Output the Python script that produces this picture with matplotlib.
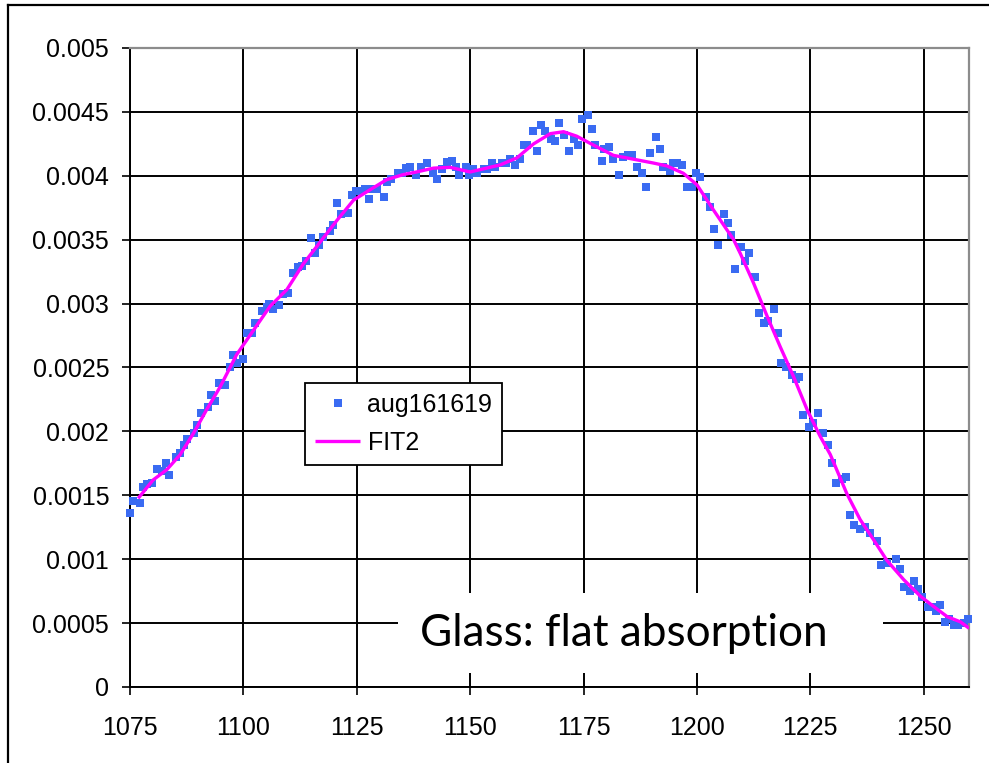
import matplotlib
matplotlib.use("Agg")
import matplotlib.pyplot as plt
from matplotlib.lines import Line2D
from matplotlib.patches import Rectangle

# ---- data ----
data_x = [1075.0, 1075.6, 1077.1, 1077.8, 1078.7, 1079.8, 1081.0, 1082.0, 1082.9, 1083.7,
          1085.1, 1086.0, 1086.8, 1087.6, 1089.1, 1089.8, 1090.7, 1092.1, 1092.9, 1093.8,
          1094.7, 1096.0, 1097.1, 1097.8, 1098.7, 1100.0, 1100.9, 1101.8, 1102.6, 1104.1,
          1105.2, 1105.7, 1106.6, 1107.9, 1108.8, 1109.8, 1111.0, 1112.0, 1112.9, 1113.8,
          1115.0, 1115.9, 1116.7, 1117.5, 1119.0, 1119.8, 1120.7, 1121.6, 1123.1, 1123.9,
          1124.8, 1125.7, 1126.8, 1127.7, 1128.5, 1129.4, 1130.9, 1131.6, 1132.5, 1134.0,
          1134.9, 1135.9, 1136.8, 1138.1, 1139.1, 1140.4, 1141.9, 1142.8, 1143.8, 1145.0,
          1146.0, 1146.9, 1147.6, 1149.0, 1149.8, 1150.7, 1151.6, 1153.1, 1153.8, 1154.8,
          1155.5, 1157.0, 1157.9, 1158.7, 1160.0, 1160.9, 1161.8, 1162.6, 1163.8, 1164.7,
          1165.7, 1166.6, 1167.9, 1168.8, 1169.7, 1170.6, 1171.9, 1172.8, 1173.7, 1174.6,
          1175.9, 1176.8, 1177.6, 1179.0, 1179.6, 1180.7, 1181.6, 1182.9, 1183.8, 1184.7,
          1185.6, 1186.9, 1187.8, 1188.7, 1189.6, 1190.9, 1191.8, 1192.6, 1194.0, 1194.8,
          1195.7, 1196.7, 1197.8, 1198.9, 1199.7, 1200.6, 1201.9, 1202.8, 1203.7, 1204.6,
          1205.9, 1206.8, 1207.6, 1208.5, 1209.8, 1210.7, 1211.6, 1212.9, 1213.8, 1214.7,
          1215.6, 1216.9, 1217.8, 1218.5, 1219.6, 1220.9, 1221.8, 1222.6, 1223.5, 1224.8,
          1225.7, 1226.6, 1227.9, 1228.8, 1229.7, 1230.6, 1231.9, 1232.8, 1233.7, 1234.6,
          1235.9, 1237.1, 1238.1, 1239.8, 1240.7, 1241.9, 1243.8, 1244.7, 1245.6, 1246.9,
          1247.8, 1248.7, 1249.6, 1250.9, 1252.2, 1252.7, 1253.5, 1254.8, 1255.7, 1256.6,
          1257.5, 1258.8, 1259.7]
data_y_milli = [1.364, 1.458, 1.442, 1.567, 1.588, 1.599, 1.706, 1.693, 1.755, 1.659,
                1.802, 1.833, 1.894, 1.941, 1.985, 2.050, 2.146, 2.193, 2.285, 2.240,
                2.381, 2.365, 2.506, 2.598, 2.538, 2.569, 2.772, 2.772, 2.851, 2.944,
                2.976, 2.997, 2.955, 2.989, 3.075, 3.085, 3.242, 3.289, 3.294, 3.336,
                3.511, 3.398, 3.459, 3.524, 3.568, 3.615, 3.790, 3.699, 3.711, 3.850,
                3.884, 3.884, 3.894, 3.818, 3.894, 3.894, 3.836, 3.954, 3.972, 4.024,
                4.024, 4.058, 4.071, 4.006, 4.071, 4.103, 4.024, 3.977, 4.053, 4.108,
                4.118, 4.071, 4.006, 4.071, 4.006, 4.053, 4.024, 4.050, 4.055, 4.103,
                4.066, 4.103, 4.097, 4.133, 4.085, 4.133, 4.243, 4.243, 4.353, 4.196,
                4.400, 4.353, 4.286, 4.270, 4.415, 4.322, 4.196, 4.290, 4.243, 4.447,
                4.478, 4.369, 4.243, 4.118, 4.212, 4.228, 4.134, 4.009, 4.149, 4.165,
                4.165, 4.071, 4.024, 3.915, 4.181, 4.306, 4.212, 4.071, 4.040, 4.103,
                4.103, 4.087, 3.915, 3.915, 4.024, 3.993, 3.836, 3.758, 3.586, 3.461,
                3.701, 3.633, 3.539, 3.273, 3.445, 3.336, 3.398, 3.210, 2.929, 2.850,
                2.866, 2.960, 2.772, 2.538, 2.506, 2.444, 2.412, 2.428, 2.131, 2.037,
                2.068, 2.146, 1.990, 1.896, 1.755, 1.599, 1.630, 1.646, 1.348, 1.270,
                1.239, 1.250, 1.207, 1.145, 0.957, 0.968, 1.004, 0.926, 0.785, 0.754,
                0.832, 0.769, 0.707, 0.628, 0.628, 0.597, 0.644, 0.509, 0.534, 0.483,
                0.483, 0.503, 0.534]

fit_x = [1076.8, 1080.1, 1083.1, 1086.0, 1089.0, 1091.9, 1094.9, 1098.5, 1102.2, 1105.9,
         1109.6, 1113.2, 1116.9, 1120.6, 1124.3, 1127.9, 1131.6, 1135.3, 1138.2, 1141.9,
         1145.6, 1150.0, 1156.6, 1160.3, 1164.0, 1167.7, 1170.6, 1173.5, 1177.2, 1181.6,
         1186.0, 1190.4, 1193.4, 1197.0, 1200.0, 1203.7, 1208.1, 1209.6, 1212.5, 1215.5,
         1218.4, 1221.3, 1224.3, 1227.2, 1229.4, 1233.1, 1236.0, 1239.0, 1241.9, 1245.6,
         1249.3, 1252.2, 1255.2, 1258.1, 1260.0]
fit_y_milli = [1.476, 1.62, 1.70, 1.815, 1.985, 2.17, 2.35, 2.60, 2.79, 2.98,
               3.11, 3.31, 3.48, 3.65, 3.81, 3.89, 3.97, 4.01, 4.03, 4.06,
               4.066, 4.03, 4.085, 4.14, 4.25, 4.33, 4.345, 4.31, 4.24, 4.16,
               4.13, 4.10, 4.077, 4.02, 3.93, 3.73, 3.50, 3.39, 3.16, 2.90,
               2.66, 2.43, 2.17, 1.96, 1.82, 1.51, 1.31, 1.15, 0.99, 0.84,
               0.71, 0.63, 0.55, 0.51, 0.46]

data_y = [v / 1000.0 for v in data_y_milli]
fit_y = [v / 1000.0 for v in fit_y_milli]

x_ticks = [1075, 1100, 1125, 1150, 1175, 1200, 1225, 1250]
y_ticks = [0, 0.0005, 0.001, 0.0015, 0.002, 0.0025, 0.003, 0.0035, 0.004, 0.0045, 0.005]
y_tick_labels = ["0", "0.0005", "0.001", "0.0015", "0.002", "0.0025", "0.003",
                 "0.0035", "0.004", "0.0045", "0.005"]
series_names = ["aug161619", "FIT2"]
note_text = "Glass: flat absorption"

# ---- figure ----
plt.rcParams['font.family'] = ['Liberation Sans', 'DejaVu Sans']
W, H, DPI = 989, 763, 100
fig = plt.figure(figsize=(W / DPI, H / DPI), dpi=DPI)
ax = fig.add_axes([130 / W, 1 - 687 / H, (969 - 130) / W, (687 - 48) / H])

ax.set_xlim(1075, 1260)
ax.set_ylim(0, 0.005)
ax.set_xticks(x_ticks)
ax.set_yticks(y_ticks)
ax.set_yticklabels(y_tick_labels)
ax.tick_params(axis='both', direction='out', length=6, width=1.2, colors='black',
               labelsize=18)
ax.tick_params(axis='y', pad=9)
ax.tick_params(axis='x', pad=15)
ax.grid(True, color='black', linewidth=1.4, zorder=1)
ax.set_axisbelow(True)
for s in ['left', 'bottom']:
    ax.spines[s].set_color('black')
    ax.spines[s].set_linewidth(1.4)
for s in ['top', 'right']:
    ax.spines[s].set_color('#8c8c8c')
    ax.spines[s].set_linewidth(1.6)

# white box behind note text
box = Rectangle((398 / W, 1 - 673 / H), 485 / W, 80 / H, transform=fig.transFigure,
                facecolor='white', edgecolor='none', zorder=2.5)
ax.add_patch(box)

ax.plot(data_x, data_y, linestyle='none', marker='s', markersize=6.2,
        color='#3A6BF2', markeredgewidth=0, label=series_names[0], zorder=3,
        clip_on=False)
ax.plot(fit_x, fit_y, color='#FF00FF', linewidth=2.4, label=series_names[1], zorder=4,
        solid_capstyle='butt')

leg = ax.legend(loc='upper left', bbox_to_anchor=(175 / 839, (687 - 383) / 639),
                borderaxespad=0, fontsize=18, frameon=True, fancybox=False,
                edgecolor='black', framealpha=1, numpoints=1, handlelength=1.8,
                handletextpad=0.3, labelspacing=0.55, borderpad=0.4)
leg.get_frame().set_linewidth(1.3)
leg.set_zorder(6)

# note text, scaled to reference width
t = fig.text(624 / W, 1 - 633 / H, note_text, family=['Lato', 'DejaVu Sans'],
             fontsize=30, ha='center', va='center', zorder=7)
fig.canvas.draw()
bb = t.get_window_extent()
t.set_fontsize(30 * 408 / bb.width)

# outer frame lines
fig.add_artist(Line2D([8 / W, 8 / W], [0, 1 - 5 / H], transform=fig.transFigure,
                      color='black', linewidth=1.6))
fig.add_artist(Line2D([8 / W, 1], [1 - 5 / H, 1 - 5 / H], transform=fig.transFigure,
                      color='black', linewidth=1.6))

fig.savefig('out.png', dpi=DPI)
